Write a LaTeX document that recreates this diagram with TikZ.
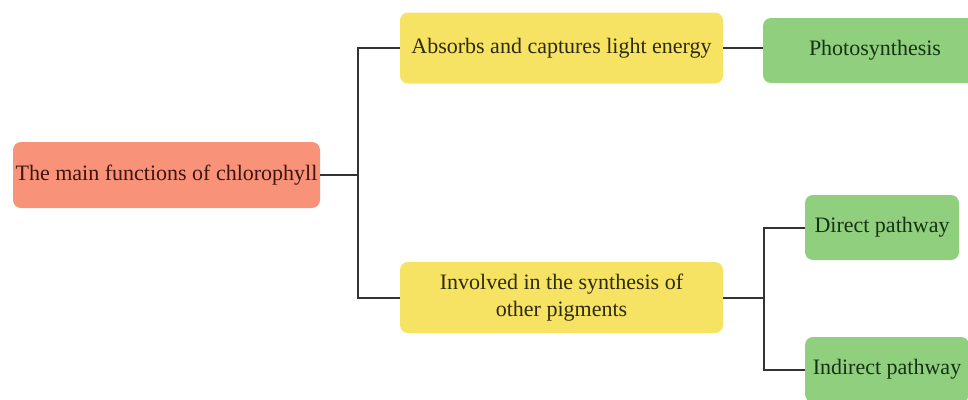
\documentclass[tikz,border=0pt]{standalone}
\usepackage{fontspec}
\setmainfont{Liberation Serif}
\definecolor{rootfill}{HTML}{F8937A}
\definecolor{midfill}{HTML}{F6E363}
\definecolor{leaffill}{HTML}{8FCF7E}
\definecolor{roottext}{HTML}{3E140C}
\definecolor{midtext}{HTML}{2E2A0C}
\definecolor{leaftext}{HTML}{163214}
\definecolor{wire}{HTML}{333333}
\tikzset{
  box/.style={rounded corners=8pt, inner sep=0pt, align=center,
    font=\fontsize{22}{27}\selectfont},
  rootbox/.style={box, fill=rootfill, text=roottext, minimum width=307pt, minimum height=66pt},
  midbox/.style={box, fill=midfill, text=midtext, minimum width=323pt, minimum height=71pt},
  leafbox/.style={box, fill=leaffill, text=leaftext, minimum height=65pt},
  wire/.style={draw=wire, line width=2pt}
}
\begin{document}
\begin{tikzpicture}[x=1pt,y=-1pt]
	\useasboundingbox (0,0) rectangle (968,399);
	\clip (0,0) rectangle (968,399);
	% nodes
	\node[rootbox] (root) at (166.5,175) {The main functions of chlorophyll};
	\node[midbox] (light) at (561.5,48) {Absorbs and captures light energy};
	\node[midbox] (pigm) at (561.5,297.5) {Involved in the synthesis of\\other pigments};
	\node[leafbox, minimum width=224pt] (photo) at (875,50.5) {Photosynthesis};
	\node[leafbox, minimum width=154pt] (direct) at (882,227.5) {Direct pathway};
	\node[leafbox, minimum width=164pt] (indirect) at (887,369.5) {Indirect pathway};
	% connectors
	\draw[wire] (root.east) -- ++(38,0) coordinate (j1);
	\draw[wire] (j1) |- (light.west);
	\draw[wire] (j1) |- (pigm.west);
	\draw[wire] (light.east) -- (light.east -| photo.west);
	\draw[wire] (pigm.east) -- ++(41,0) coordinate (j2);
	\draw[wire] (j2) |- (direct.west);
	\draw[wire] (j2) |- (indirect.west);
\end{tikzpicture}
\end{document}
